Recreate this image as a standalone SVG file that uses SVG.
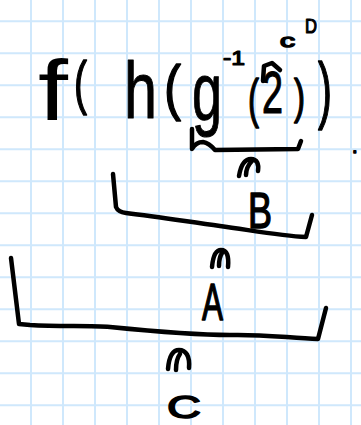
<svg xmlns="http://www.w3.org/2000/svg" width="361" height="425" viewBox="0 0 361 425">
<style>
.grid{stroke:#cfe8fc;stroke-width:2;fill:none}
.ink{fill:none;stroke:#000;stroke-width:4.5;stroke-linecap:round;stroke-linejoin:round}
.t{font-family:"Liberation Sans",Arial,sans-serif;fill:#000;stroke:#000;stroke-linejoin:round}
</style>
<rect width="361" height="425" fill="#fff"/>
<path class="grid" d="M31,0V425M63,0V425M95,0V425M127,0V425M159,0V425M191,0V425M223,0V425M255,0V425M287,0V425M319,0V425M351,0V425
M0,21.3H361M0,53.3H361M0,85.3H361M0,117.3H361M0,149.3H361M0,181.3H361M0,213.3H361M0,245.3H361M0,277.3H361M0,309.3H361M0,341.3H361M0,373.3H361M0,405.3H361"/>
<g id="expression">
<text class="t" x="38" y="120" font-size="85" textLength="30" lengthAdjust="spacingAndGlyphs" stroke-width="0">f</text>
<text class="t" x="74" y="103" font-size="60" textLength="13" lengthAdjust="spacingAndGlyphs" stroke-width="1.5">(</text>
<text class="t" x="124" y="118" font-size="80" textLength="33" lengthAdjust="spacingAndGlyphs" stroke-width="1">h</text>
<text class="t" x="164" y="108" font-size="62" textLength="17" lengthAdjust="spacingAndGlyphs" stroke-width="1.5">(</text>
<text class="t" x="192" y="120" font-size="82" textLength="30" lengthAdjust="spacingAndGlyphs" stroke-width="1">g</text>
<text class="t" x="223" y="65" font-size="20" textLength="22" lengthAdjust="spacingAndGlyphs" stroke-width="1.2">-1</text>
<text class="t" x="248" y="117" font-size="54" textLength="11" lengthAdjust="spacingAndGlyphs" stroke-width="1.5">(</text>
<text class="t" x="262" y="113" font-size="60" textLength="21" lengthAdjust="spacingAndGlyphs" stroke-width="1.2">2</text>
<path class="ink" d="M263,81 L264,66 L272,63 L280,70"/>
<text class="t" x="294" y="113" font-size="48" textLength="11" lengthAdjust="spacingAndGlyphs" stroke-width="1.5">)</text>
<text class="t" x="318" y="115" font-size="74" textLength="14" lengthAdjust="spacingAndGlyphs" stroke-width="1.5">)</text>
<text class="t" x="280" y="47" font-size="19" textLength="15" lengthAdjust="spacingAndGlyphs" stroke-width="1.5">c</text>
<text class="t" x="305" y="33" font-size="21" textLength="12" lengthAdjust="spacingAndGlyphs" stroke-width="1.2">D</text>
<text class="t" x="352" y="153" font-size="20" stroke-width="1.5">.</text>
</g>
<g id="inner-bracket">
<path class="ink" d="M192,129 L192,149 Q196,142 203,142 Q209,143 215,150 L298,149 L301,141"/>
</g>
<g id="node-B">
<path class="ink" d="M113,174 L116,207 Q118,212 126,213 C160,217 190,222 220,226 C250,230 280,236 306,237 L312,215"/>
<text class="t" x="248" y="228" font-size="50" textLength="24" lengthAdjust="spacingAndGlyphs" stroke-width="1.5">B</text>
</g>
<g id="node-A">
<path class="ink" d="M11,258 L19,324 L30,325 C60,327 90,325 110,327 C150,331 190,335 230,335 C260,334 290,338 318,339 L326,308"/>
<text class="t" x="202" y="320" font-size="52" textLength="21" lengthAdjust="spacingAndGlyphs" stroke-width="1.5">A</text>
</g>
<g id="node-C">
<text class="t" x="167" y="418" font-size="31" textLength="34" lengthAdjust="spacingAndGlyphs" stroke-width="1.5">C</text>
</g>
<g id="connectors">
<path class="ink" d="M239,176 C241,164 246,159 251,159 C257,159 259,164 258,171 M246,175 C246,169 248,165 252,161"/>
<path class="ink" d="M212,267 C213,256 216,250 221,250 C227,250 229,256 228,267 M219,266 C219,260 220,256 222,253"/>
<path class="ink" d="M168,369 C169,357 172,350 179,350 C186,350 190,356 189,368 M176,370 C176,363 177,358 180,354"/>
</g>
</svg>
